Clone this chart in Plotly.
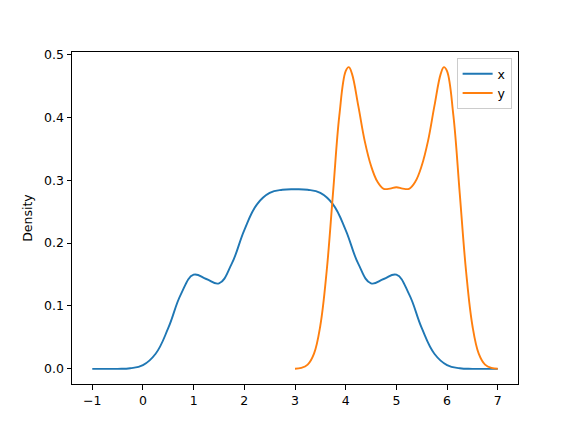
import plotly.graph_objects as go

# density values (KDE curves), x grid positions
x_grid = [-1.0, -0.75, -0.5, -0.25, 0.0, 0.25, 0.5, 0.75, 1.0, 1.25, 1.5, 1.75,
          2.0, 2.25, 2.5, 2.75, 3.0, 3.25, 3.5, 3.75, 4.0, 4.25, 4.5, 4.75,
          5.0, 5.25, 5.5, 5.75, 6.0, 6.25, 6.5, 6.75, 7.0]
x_density = [0.0000, 0.0000, 0.0001, 0.0010, 0.0060, 0.0241, 0.0651, 0.1188,
             0.1497, 0.1429, 0.1360, 0.1669, 0.2207, 0.2616, 0.2797, 0.2847,
             0.2855, 0.2847, 0.2797, 0.2616, 0.2207, 0.1669, 0.1360, 0.1429,
             0.1497, 0.1188, 0.0651, 0.0241, 0.0060, 0.0010, 0.0001, 0.0000,
             0.0000]

y_grid = [3.0, 3.125, 3.25, 3.375, 3.5, 3.625, 3.75, 3.875, 4.0, 4.0625,
          4.125, 4.25, 4.375, 4.5, 4.625, 4.75, 4.875, 5.0, 5.125, 5.25,
          5.375, 5.5, 5.625, 5.75, 5.875, 5.9375, 6.0, 6.125, 6.25, 6.375,
          6.5, 6.625, 6.75, 6.875, 7.0]
y_density = [0.0003, 0.0015, 0.0068, 0.0243, 0.0690, 0.1556, 0.2795, 0.4029,
             0.4733, 0.4797, 0.4689, 0.4176, 0.3624, 0.3228, 0.2978, 0.2863,
             0.2865, 0.2888, 0.2865, 0.2863, 0.2978, 0.3228, 0.3624, 0.4176,
             0.4689, 0.4797, 0.4733, 0.4029, 0.2795, 0.1556, 0.0690, 0.0243,
             0.0068, 0.0015, 0.0003]

x_ticks = [-1, 0, 1, 2, 3, 4, 5, 6, 7]
y_ticks = [0.0, 0.1, 0.2, 0.3, 0.4, 0.5]

fig = go.Figure()
fig.add_trace(go.Scatter(x=x_grid, y=x_density, mode='lines', name='x',
                         line=dict(color='#1f77b4', width=1.9,
                                   shape='spline', smoothing=1.2)))
fig.add_trace(go.Scatter(x=y_grid, y=y_density, mode='lines', name='y',
                         line=dict(color='#ff7f0e', width=1.9,
                                   shape='spline', smoothing=1.1)))

axis_style = dict(showline=True, linecolor='black', linewidth=1, mirror=True,
                  ticks='outside', ticklen=4.5, tickwidth=1, tickcolor='black',
                  showgrid=False, zeroline=False,
                  tickfont=dict(family='DejaVu Sans', size=12.5, color='black'))
fig.update_xaxes(range=[-1.4, 7.4], tickvals=x_ticks, **axis_style)
fig.update_yaxes(range=[-0.024, 0.5037], tickvals=y_ticks, tickformat='.1f',
                 title=dict(text='Density', standoff=8,
                            font=dict(family='DejaVu Sans', size=12.5, color='black')),
                 **axis_style)

fig.update_layout(
    width=576, height=432,
    margin=dict(l=72, r=57.6, t=51.84, b=47.52),
    plot_bgcolor='white', paper_bgcolor='white',
    font=dict(family='DejaVu Sans', size=12.5, color='black'),
    legend=dict(x=0.9857, y=0.9815, xanchor='right', yanchor='top',
                bgcolor='rgba(255,255,255,0.8)', bordercolor='#cccccc',
                borderwidth=1, font=dict(size=12.5),
                itemwidth=30, tracegroupgap=0),
)

# drop the browser's default 8px page margin so the figure sits at 0,0
fig.write_html("out.html", config={'displayModeBar': False},
               post_script="document.body.style.margin='0';")
